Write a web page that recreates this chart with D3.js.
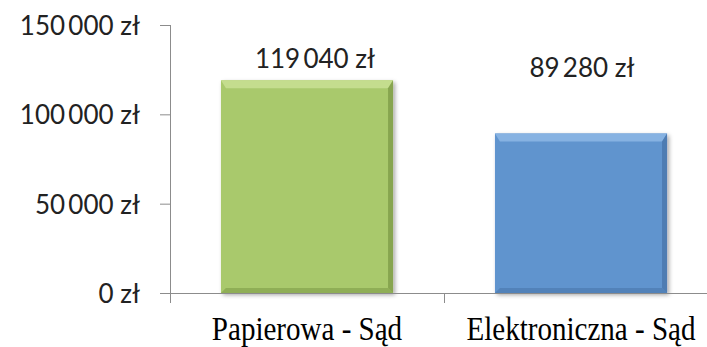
<!DOCTYPE html>
<html>
<head>
<meta charset="utf-8">
<script src="https://cdn.jsdelivr.net/npm/d3@7"></script>
<style>
    body { margin: 0; background: #fff; }
    #chart { width: 707px; height: 347px; }
</style>
</head>
<body>
<div id="chart"></div>
<script>
//Datos
const categorias = ['Papierowa - Sąd', 'Elektroniczna - Sąd'];
const valores = [119040, 89280];
const ticksY = [0, 50000, 100000, 150000];

//Colores fijos
const COLOR_VERDE = '#A9C96C',
COLOR_VERDE_CLARO = '#C4DD8E',
COLOR_VERDE_OSCURO = '#7E9C48',
COLOR_AZUL = '#6194CE',
COLOR_AZUL_CLARO = '#86B2E2',
COLOR_AZUL_OSCURO = '#4A76AB',
COLOR_EJE = '#8C8C8C';

let colores = [
    {base: COLOR_VERDE, claro: COLOR_VERDE_CLARO, oscuro: COLOR_VERDE_OSCURO},
    {base: COLOR_AZUL, claro: COLOR_AZUL_CLARO, oscuro: COLOR_AZUL_OSCURO}
];

//Ajustes de las etiquetas de valor (como las coloca Excel)
let ajusteEtiquetas = [{dx: 8, dy: -12}, {dx: 1, dy: -56}];

let data = categorias.map(function(c, i) { return {cat: c, valor: valores[i], i: i}; });

let margin = {top: 25, right: -11, bottom: 54, left: 170},
    width = 707 - margin.left - margin.right,
    height = 347 - margin.top - margin.bottom;

let svg = d3.select('#chart')
    .append('svg')
        .attr('width', 707)
        .attr('height', 347)
    .append('g')
        .attr('transform', 'translate(' + margin.left + ',' + margin.top + ')');

let defs = svg.append('defs');
defs.append('filter')
    .attr('id', 'sombra')
    .attr('x', '-10%').attr('y', '-10%').attr('width', '130%').attr('height', '130%')
    .append('feDropShadow')
    .attr('dx', 2).attr('dy', 2).attr('stdDeviation', 2)
    .attr('flood-color', '#000').attr('flood-opacity', 0.35);

let y = d3.scaleLinear()
    .domain([0, 150000])
    .range([height, 0]);

let x = d3.scaleBand()
    .domain(categorias)
    .range([0, width])
    .paddingInner(0.372)
    .paddingOuter(0.186);

//Escala auxiliar para las marcas entre categorías
let xLimites = d3.scaleLinear()
    .domain([0, categorias.length])
    .range([0, width]);

function formato(v) {
    return d3.format(',')(v).replace(/,/g, '\u2009') + ' zł';
}

//Eje Y
let ejeY = svg.append('g')
    .call(d3.axisLeft(y).tickValues(ticksY).tickFormat(formato).tickSize(10).tickSizeOuter(0).tickPadding(20));
ejeY.select('.domain').attr('stroke', COLOR_EJE).attr('d', 'M0.5,0V' + (height + 10));
ejeY.selectAll('.tick line').attr('stroke', COLOR_EJE);
ejeY.selectAll('.tick text')
    .attr('font-family', 'Lato, "Open Sans", sans-serif')
    .attr('font-size', 26)
    .attr('fill', '#222')
    .attr('dy', '0.36em');

//Barras
let barras = svg.selectAll('.barra')
    .data(data)
    .enter()
    .append('g')
    .attr('class', 'barra');

let b = 8, lado = 5;

barras.append('rect')
    .attr('x', function(d) { return x(d.cat); })
    .attr('y', function(d) { return y(d.valor); })
    .attr('width', x.bandwidth())
    .attr('height', function(d) { return height - y(d.valor); })
    .attr('fill', function(d) { return colores[d.i].base; })
    .attr('filter', 'url(#sombra)');

//Bisel superior
barras.append('polygon')
    .attr('points', function(d) {
        let x0 = x(d.cat), x1 = x0 + x.bandwidth(), y0 = y(d.valor);
        return [[x0, y0], [x1, y0], [x1 - lado, y0 + b], [x0 + lado, y0 + b]].join(' ');
    })
    .attr('fill', function(d) { return colores[d.i].claro; });

//Bisel derecho
barras.append('polygon')
    .attr('points', function(d) {
        let x1 = x(d.cat) + x.bandwidth(), y0 = y(d.valor);
        return [[x1, y0], [x1 - lado, y0 + b], [x1 - lado, height - lado], [x1, height]].join(' ');
    })
    .attr('fill', function(d) { return colores[d.i].oscuro; })
    .attr('opacity', 0.8);

//Bisel inferior
barras.append('polygon')
    .attr('points', function(d) {
        let x0 = x(d.cat), x1 = x0 + x.bandwidth();
        return [[x0, height], [x0 + lado, height - lado], [x1 - lado, height - lado], [x1, height]].join(' ');
    })
    .attr('fill', function(d) { return colores[d.i].oscuro; })
    .attr('opacity', 0.6);

//Etiquetas de valor
barras.append('text')
    .attr('x', function(d) { return x(d.cat) + x.bandwidth() / 2 + ajusteEtiquetas[d.i].dx; })
    .attr('y', function(d) { return y(d.valor) + ajusteEtiquetas[d.i].dy; })
    .attr('text-anchor', 'middle')
    .attr('font-family', 'Lato, "Open Sans", sans-serif')
    .attr('font-size', 26)
    .attr('fill', '#222')
    .text(function(d) { return formato(d.valor); });

//Eje X
let ejeX = svg.append('g')
    .attr('transform', 'translate(0,' + height + ')')
    .call(d3.axisBottom(xLimites).tickValues(d3.range(categorias.length + 1)).tickFormat('').tickSize(10).tickSizeOuter(0));
ejeX.select('.domain').attr('stroke', COLOR_EJE);
ejeX.selectAll('.tick line').attr('stroke', COLOR_EJE);

//Etiquetas de categoría
svg.append('g')
    .selectAll('text')
    .data(categorias)
    .enter()
    .append('text')
    .attr('transform', function(d) { return 'translate(' + (x(d) + x.bandwidth() / 2) + ',' + (height + 47) + ') scale(0.88,1)'; })
    .attr('text-anchor', 'middle')
    .style('font-family', '"Liberation Serif", "DejaVu Serif", serif')
    .style('font-size', '33px')
    .attr('fill', '#000')
    .text(function(d) { return d; });
</script>
</body>
</html>
